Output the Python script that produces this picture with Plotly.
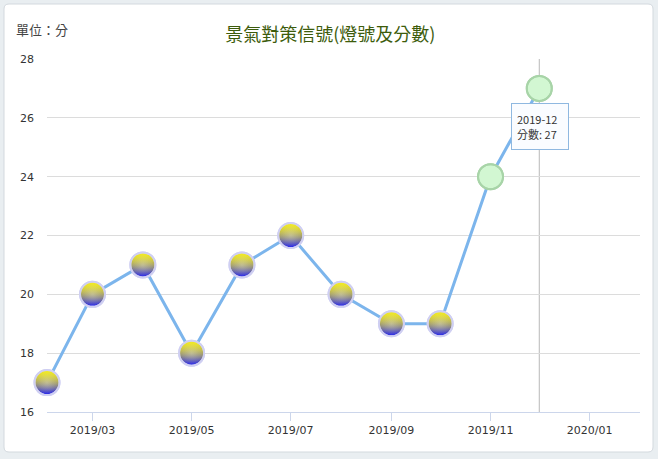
import plotly.graph_objects as go

months = ["2019-02-01", "2019-03-01", "2019-04-01", "2019-05-01", "2019-06-01",
          "2019-07-01", "2019-08-01", "2019-09-01", "2019-10-01", "2019-11-01",
          "2019-12-01"]
scores = [17, 20, 21, 18, 21, 22, 20, 19, 19, 24, 27]
signals = ["yb", "yb", "yb", "yb", "yb", "yb", "yb", "yb", "yb", "g", "g"]
tick_vals = ["2019-03-01", "2019-05-01", "2019-07-01", "2019-09-01", "2019-11-01", "2020-01-01"]
tick_text = ["2019/03", "2019/05", "2019/07", "2019/09", "2019/11", "2020/01"]
y_ticks = [16, 18, 20, 22, 24, 26, 28]
hover_label = "2019-12"

base_top = {"yb": "#f6ee14", "g": "#d2f7d2"}
base_bottom = {"yb": "#1414f8", "g": "#d2f7d2"}
yel_top = {"yb": "rgba(246,238,20,0.6)", "g": "rgba(0,0,0,0)"}
yel_bottom = {"yb": "rgba(246,238,20,0)", "g": "rgba(0,0,0,0)"}
glow_edge = {"yb": "rgba(255,255,255,0)", "g": "rgba(0,0,0,0)"}
glow_center = {"yb": "rgba(255,255,255,0.3)", "g": "rgba(0,0,0,0)"}
edge = {"yb": "#cfcff2", "g": "#a8d4a8"}

W, H = 658, 459
L, R, T, B = 47, 18, 59, 47
pw, ph = W - L - R, H - T - B

def px(x):
    return (x - L) / pw

def py(y):
    return (H - B - y) / ph

fig = go.Figure()
fig.add_trace(go.Scatter(
    x=months, y=scores, mode="lines+markers",
    line=dict(color="#7cb5ec", width=3),
    marker=dict(size=25, color=[base_top[s] for s in signals],
                gradient=dict(type="vertical", color=[base_bottom[s] for s in signals]),
                line=dict(color=[edge[s] for s in signals], width=2)),
    hoverinfo="skip", showlegend=False, cliponaxis=False,
))
fig.add_trace(go.Scatter(
    x=months, y=scores, mode="markers",
    marker=dict(size=25, color=[yel_top[s] for s in signals],
                gradient=dict(type="vertical", color=[yel_bottom[s] for s in signals]),
                line=dict(width=0)),
    hoverinfo="skip", showlegend=False, cliponaxis=False,
))
fig.add_trace(go.Scatter(
    x=months, y=scores, mode="markers",
    marker=dict(size=25, color=[glow_edge[s] for s in signals],
                gradient=dict(type="radial", color=[glow_center[s] for s in signals]),
                line=dict(color=[edge[s] for s in signals], width=2)),
    hoverinfo="skip", showlegend=False, cliponaxis=False,
))

# card with rounded corners
x0, x1, y0, y1 = px(4), px(653), py(452), py(4)
rx, ry = 5 / pw, 5 / ph
path = (f"M {x0+rx},{y0} L {x1-rx},{y0} Q {x1},{y0} {x1},{y0+ry} "
        f"L {x1},{y1-ry} Q {x1},{y1} {x1-rx},{y1} L {x0+rx},{y1} "
        f"Q {x0},{y1} {x0},{y1-ry} L {x0},{y0+ry} Q {x0},{y0} {x0+rx},{y0} Z")
fig.add_shape(type="path", path=path, xref="paper", yref="paper",
              fillcolor="white", line=dict(color="#d3d9de", width=1), layer="below")

# crosshair
fig.add_shape(type="line", x0=months[-1], x1=months[-1], y0=0, y1=1,
              xref="x", yref="paper", line=dict(color="#b8b8b8", width=1), layer="below")

# tooltip
fig.add_annotation(x=months[-1], y=scores[-1], xref="x", yref="y",
                   text=f"{hover_label}<br>分數: {scores[-1]}", showarrow=False,
                   yshift=-38, xshift=1, align="left", width=46, height=35,
                   font=dict(size=11, color="#333333", family="Noto Sans CJK TC, sans-serif"),
                   bgcolor="rgba(250,252,255,1)", bordercolor="#8fb8e0",
                   borderwidth=1, borderpad=5)

fig.add_annotation(x=px(14), y=py(30), xref="paper", yref="paper", xanchor="left",
                   yanchor="middle", text="單位：分", showarrow=False,
                   font=dict(size=13, color="#444444", family="Noto Sans CJK TC, sans-serif"))

fig.update_layout(
    width=W, height=H,
    margin=dict(l=L, r=R, t=T, b=B),
    paper_bgcolor="#e9eef1", plot_bgcolor="rgba(0,0,0,0)",
    title=dict(text="景氣對策信號(燈號及分數)", x=0.502, xanchor="center",
               y=1 - 35 / H, yanchor="middle",
               font=dict(size=18, color="#3d5c0c", family="Noto Sans CJK TC, sans-serif")),
    xaxis=dict(type="date", range=["2019-02-01", "2020-02-01"],
               tickvals=tick_vals, ticktext=tick_text, showgrid=False,
               ticks="outside", ticklen=8, tickcolor="#ccd6eb",
               showline=True, linecolor="#ccd6eb", linewidth=1,
               tickfont=dict(size=11, color="#333333", family="DejaVu Sans"),
               zeroline=False, fixedrange=True),
    yaxis=dict(range=[16, 28], tickvals=y_ticks, showgrid=True,
               gridcolor="#dcdcdc", gridwidth=1, zeroline=False,
               ticks="", ticklabelstandoff=12,
               tickfont=dict(size=11, color="#333333", family="DejaVu Sans"),
               fixedrange=True),
)

fig.write_html("out.html", config={"displayModeBar": False},
               post_script="document.body.style.margin='0';document.body.style.overflow='hidden';")
